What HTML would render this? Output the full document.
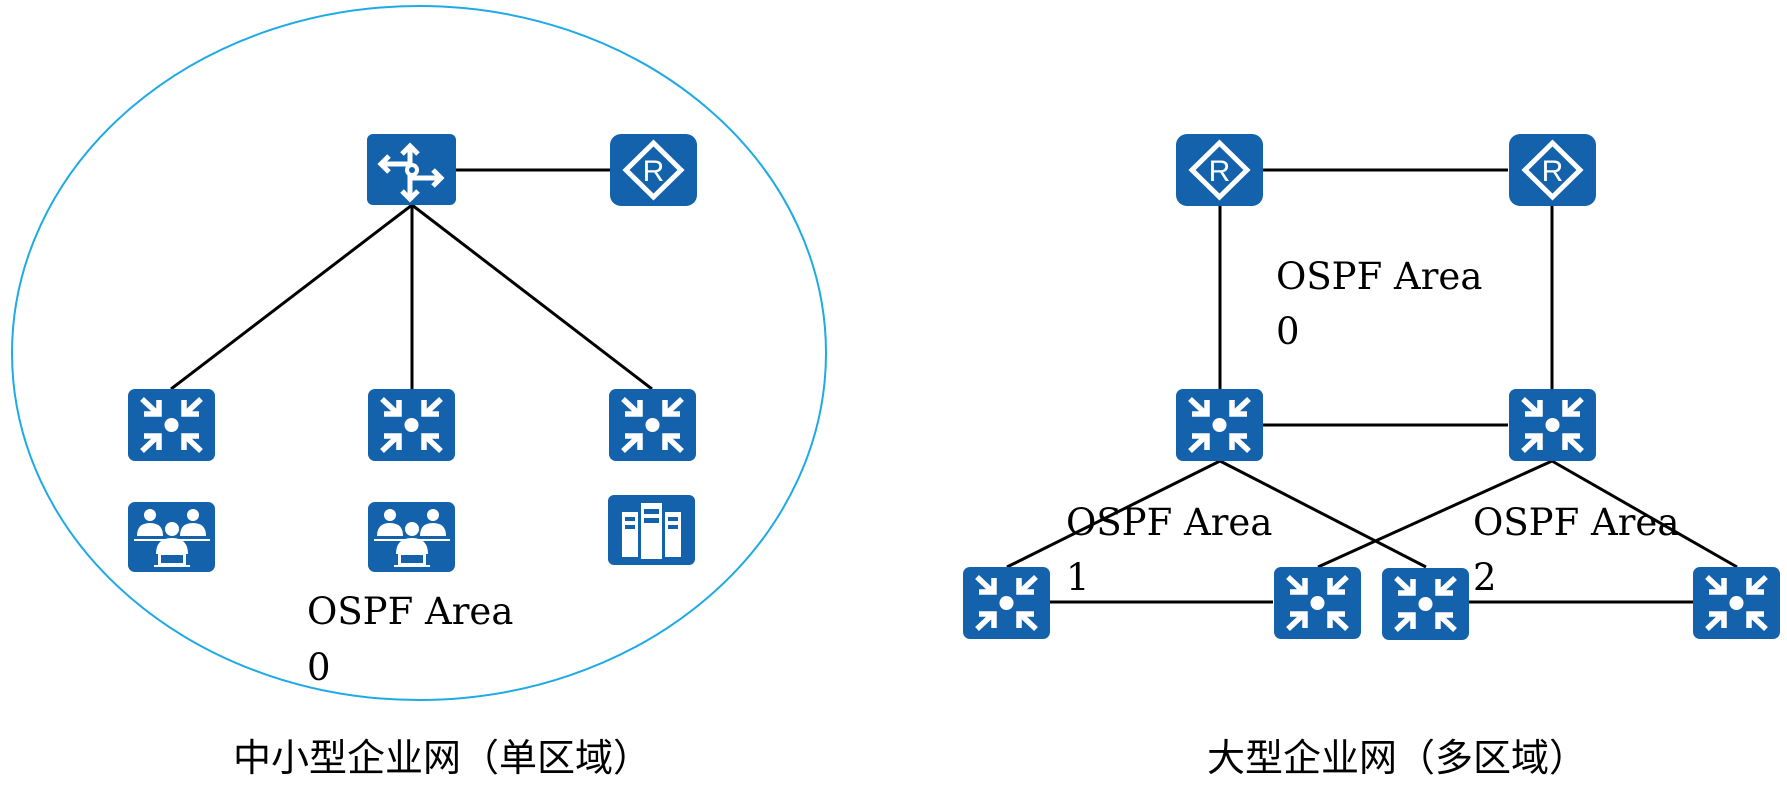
<!DOCTYPE html>
<html><head><meta charset="utf-8"><style>
html,body{margin:0;padding:0;background:#fff;}
svg{display:block;}
.t{font-family:"DejaVu Serif","Liberation Serif",serif;font-size:37px;fill:#000;}
.c{font-family:"Liberation Sans","Noto Sans CJK SC",sans-serif;font-size:38px;fill:#000;}
</style></head><body>
<svg width="1787" height="808" viewBox="0 0 1787 808" xmlns="http://www.w3.org/2000/svg">
<defs>
<g id="sw">
<rect x="0" y="0" width="87" height="72" rx="7" fill="#1462ac"/>
<circle cx="43.5" cy="36" r="7" fill="#fff"/>
<g stroke="#fff" stroke-width="5.5" fill="none" stroke-linecap="butt">
<path d="M14 10 L30 25"/><path d="M16 25 H31 V11"/>
<path d="M73 10 L57 25"/><path d="M71 25 H56 V11"/>
<path d="M14 62 L30 47"/><path d="M16 47 H31 V61"/>
<path d="M73 62 L57 47"/><path d="M71 47 H56 V61"/>
</g>
</g>
<g id="rt">
<rect x="0" y="0" width="87" height="72" rx="11" fill="#1462ac"/>
<path d="M43.5 9 L71 36 L43.5 63 L16 36 Z" fill="none" stroke="#fff" stroke-width="5"/>
<text x="43.5" y="47" text-anchor="middle" font-family="Liberation Sans,sans-serif" font-size="30" fill="#fff">R</text>
</g>
<g id="l3">
<rect x="0" y="0" width="89" height="71" rx="6" fill="#1462ac"/>
<g stroke="#fff" stroke-width="5" fill="none">
<path d="M43 12 V65"/><path d="M35 20 L43 12 L51 20"/><path d="M35 57 L43 65 L51 57"/>
<path d="M14 30 H43"/><path d="M22 22 L14 30 L22 38"/>
<path d="M43 44 H74"/><path d="M66 36 L74 44 L66 52"/>
</g>
<circle cx="45" cy="36" r="7" fill="#fff"/><circle cx="45" cy="36" r="3" fill="#1462ac"/>
</g>
<g id="usr">
<rect x="0" y="0" width="87" height="70" rx="7" fill="#1462ac"/>
<g fill="#fff">
<circle cx="22" cy="13" r="6"/><path d="M9 34 Q9 21 22 21 Q35 21 35 34 Z"/>
<circle cx="65" cy="13" r="6"/><path d="M52 34 Q52 21 65 21 Q78 21 78 34 Z"/>
<circle cx="44" cy="27" r="7"/><path d="M28 52 Q28 36 44 36 Q60 36 60 52 Z"/>
<rect x="6" y="37" width="32" height="2"/><rect x="50" y="37" width="32" height="2"/>
<rect x="30" y="51" width="28" height="12"/><rect x="26" y="63" width="36" height="2"/>
</g>
<rect x="33" y="53" width="22" height="8" fill="#1462ac"/>
</g>
<g id="srv">
<rect x="0" y="0" width="87" height="70" rx="6" fill="#1462ac"/>
<g fill="#fff">
<rect x="14" y="17" width="16" height="45"/><rect x="57" y="17" width="16" height="45"/><rect x="33" y="8" width="21" height="56"/>
</g>
<g fill="#1462ac">
<rect x="17" y="22" width="10" height="4"/><rect x="17" y="30" width="10" height="4"/>
<rect x="60" y="22" width="10" height="4"/><rect x="60" y="30" width="10" height="4"/>
<rect x="36" y="14" width="15" height="5"/><rect x="36" y="23" width="15" height="5"/>
</g>
</g>
</defs>

<ellipse cx="419" cy="353" rx="407" ry="347" fill="none" stroke="#1eaae6" stroke-width="2"/>
<g stroke="#000" stroke-width="3">
<line x1="456" y1="170" x2="610" y2="170"/>
<line x1="412" y1="205" x2="171" y2="389"/>
<line x1="412" y1="205" x2="412" y2="389"/>
<line x1="412" y1="205" x2="652" y2="389"/>
</g>
<use href="#l3" x="367" y="134"/>
<use href="#rt" x="610" y="134"/>
<use href="#sw" x="128" y="389"/>
<use href="#sw" x="368" y="389"/>
<use href="#sw" x="609" y="389"/>
<use href="#usr" x="128" y="502"/>
<use href="#usr" x="368" y="502"/>
<use href="#srv" x="608" y="495"/>
<text class="t" x="307" y="624">OSPF Area</text>
<text class="t" x="307" y="680">0</text>
<text class="c" x="233" y="771">中小型企业网（单区域）</text>

<g stroke="#000" stroke-width="3">
<line x1="1263" y1="170" x2="1508" y2="170"/>
<line x1="1220" y1="205" x2="1220" y2="389"/>
<line x1="1552" y1="205" x2="1552" y2="389"/>
<line x1="1263" y1="425" x2="1508" y2="425"/>
<line x1="1220" y1="461" x2="1007" y2="567"/>
<line x1="1220" y1="461" x2="1426" y2="567"/>
<line x1="1552" y1="461" x2="1318" y2="567"/>
<line x1="1552" y1="461" x2="1737" y2="567"/>
<line x1="1050" y1="602" x2="1273" y2="602"/>
<line x1="1469" y1="602" x2="1693" y2="602"/>
</g>
<use href="#rt" x="1176" y="134"/>
<use href="#rt" x="1509" y="134"/>
<use href="#sw" x="1176" y="389"/>
<use href="#sw" x="1509" y="389"/>
<use href="#sw" x="963" y="567"/>
<use href="#sw" x="1274" y="567"/>
<use href="#sw" x="1382" y="568"/>
<use href="#sw" x="1693" y="567"/>
<text class="t" x="1276" y="289">OSPF Area</text>
<text class="t" x="1276" y="344">0</text>
<text class="t" x="1066" y="535">OSPF Area</text>
<text class="t" x="1066" y="590">1</text>
<text class="t" x="1473" y="535">OSPF Area</text>
<text class="t" x="1473" y="590">2</text>
<text class="c" x="1207" y="771">大型企业网（多区域）</text>
</svg>
</body></html>
